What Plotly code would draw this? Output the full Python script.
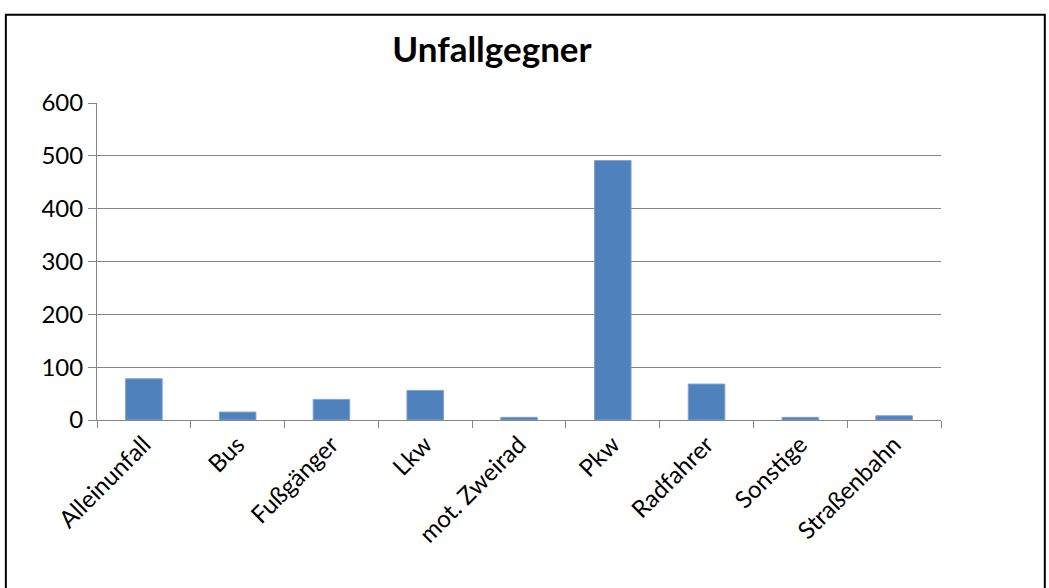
import plotly.graph_objects as go

categories = ["Alleinunfall", "Bus", "Fußgänger", "Lkw", "mot. Zweirad",
              "Pkw", "Radfahrer", "Sonstige", "Straßenbahn"]
counts = [78, 15, 39, 56, 5, 491, 68, 5, 8]

fig = go.Figure(
    go.Bar(
        x=categories,
        y=counts,
        marker=dict(color="#4F81BD", line=dict(color="#7FA3D0", width=1)),
    )
)

fig.update_layout(
    width=1049,
    height=588,
    paper_bgcolor="white",
    plot_bgcolor="white",
    margin=dict(l=97, r=108, t=103, b=168),
    bargap=0.61,
    showlegend=False,
    font=dict(family="Lato, Noto Sans, sans-serif", size=24, color="black"),
    title=dict(
        text="<b>Unfallgegner</b>",
        x=0.469, xanchor="center",
        y=0.915, yanchor="middle",
        font=dict(size=35, color="black"),
    ),
    # rahmen um das ganze diagramm
    shapes=[
        dict(
            type="rect", xref="paper", yref="paper",
            x0=-0.108, x1=1.123, y0=-0.7, y1=1.278,
            line=dict(color="black", width=2),
        )
    ],
)

fig.update_xaxes(
    showline=True, linecolor="#868686", linewidth=1,
    ticks="outside", tickson="boundaries", ticklen=7, tickcolor="#868686",
    tickangle=-45, showgrid=False,
)
fig.update_yaxes(
    range=[0, 600], dtick=100,
    showline=True, linecolor="#868686", linewidth=1,
    ticks="outside", ticklen=8, tickcolor="#868686",
    showgrid=True, gridcolor="#868686", gridwidth=1,
    zeroline=False,
)

# kein body-rand, damit das diagramm bei 0,0 beginnt
fig.write_html(
    "out.html",
    config={"displayModeBar": False},
    post_script="document.body.style.margin='0';"
                "document.body.style.overflow='hidden';",
)
